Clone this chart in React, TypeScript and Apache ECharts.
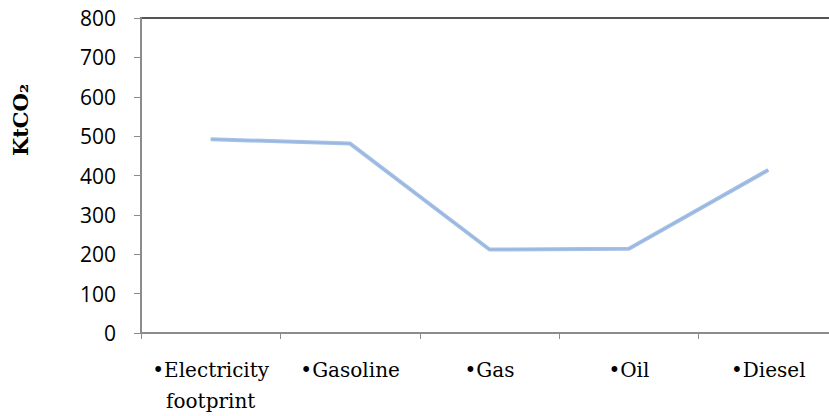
import React, { useEffect, useRef } from "react";
import * as echarts from "echarts";

const categories = ["•Electricity\nfootprint", "•Gasoline", "•Gas", "•Oil", "•Diesel"];
const emissions = [492, 481, 212, 214, 414];
const yTicks = { min: 0, max: 800, interval: 100 };
const yAxisTitle = "KtCO₂";

export default function App() {
  const ref = useRef<HTMLDivElement>(null);
  useEffect(() => {
    const chart = echarts.init(ref.current!, null, { renderer: "svg" });
    chart.setOption({
      animation: false,
      backgroundColor: "#ffffff",
      grid: {
        left: 141,
        right: 2,
        top: 18,
        bottom: 79,
        show: true,
        borderColor: "#555555",
        borderWidth: 2,
      },
      xAxis: {
        type: "category",
        data: categories,
        boundaryGap: true,
        axisLine: { lineStyle: { color: "#8c8c8c", width: 2 } },
        axisTick: { show: true, length: 6, lineStyle: { color: "#8c8c8c", width: 1 } },
        axisLabel: {
          interval: 0,
          fontFamily: "DejaVu Serif",
          fontSize: 20,
          color: "#000",
          margin: 21,
          lineHeight: 31,
        },
        splitLine: { show: false },
      },
      yAxis: {
        type: "value",
        min: yTicks.min,
        max: yTicks.max,
        interval: yTicks.interval,
        axisLine: { show: true, lineStyle: { color: "#8c8c8c", width: 2 } },
        axisTick: { show: true, length: 7, lineStyle: { color: "#8c8c8c", width: 1 } },
        axisLabel: {
          fontFamily: "Open Sans",
          fontSize: 21,
          color: "#000",
          margin: 25,
        },
        splitLine: { show: false },
      },
      graphic: [
        {
          type: "text",
          x: 20,
          y: 120,
          rotation: Math.PI / 2,
          style: {
            text: yAxisTitle,
            fontFamily: "DejaVu Serif",
            fontWeight: "bold",
            fontSize: 21,
            fill: "#000",
            align: "center",
            verticalAlign: "middle",
          },
        },
      ],
      series: [
        {
          type: "line",
          data: emissions,
          symbol: "none",
          lineStyle: { color: "#a6c1e6", width: 4 },
          z: 3,
        },
        {
          type: "line",
          data: emissions,
          symbol: "none",
          lineStyle: { color: "#95b4de", width: 1.2 },
          z: 4,
        },
      ],
    });
    return () => chart.dispose();
  }, []);
  return (
    <div
      ref={ref}
      style={{ position: "fixed", left: 0, top: 0, width: 840, height: 416 }}
    />
  );
}
